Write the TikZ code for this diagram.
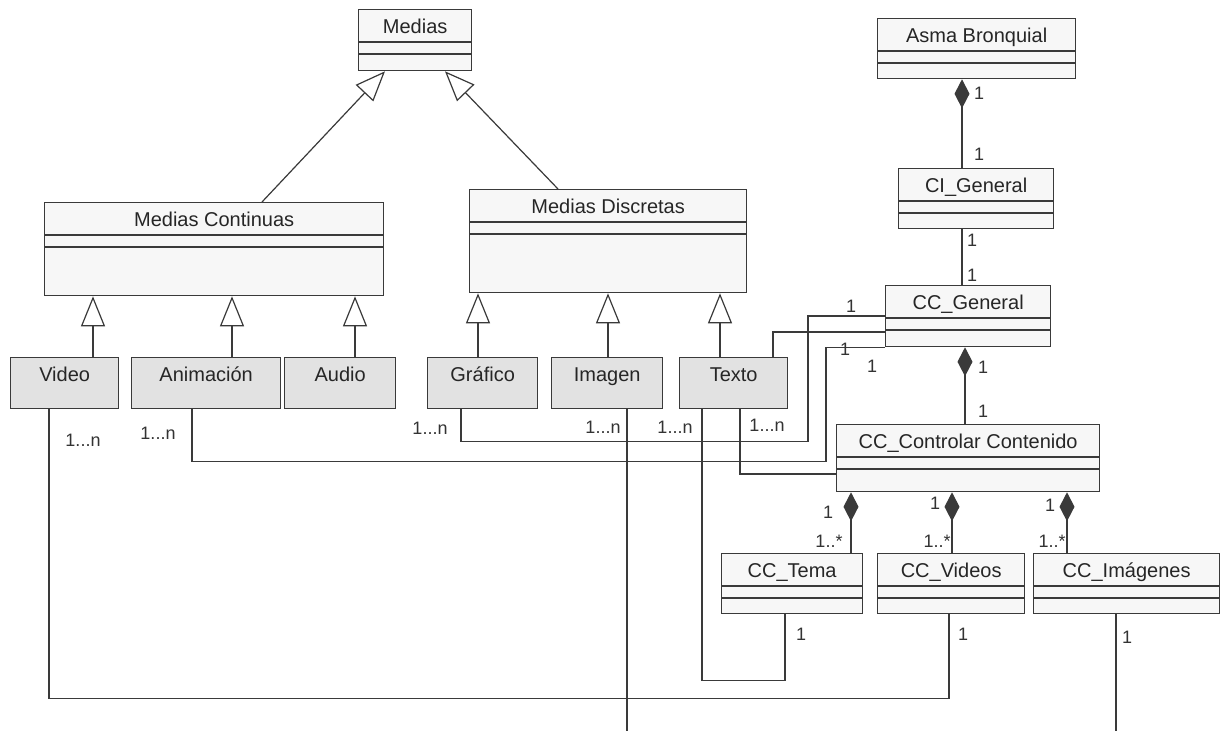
\documentclass[tikz,border=0pt]{standalone}
\usepackage{fontspec}
\setmainfont{Liberation Sans}
\usetikzlibrary{arrows.meta}

\definecolor{trazo}{HTML}{3A3A3A}
\definecolor{fondoclase}{HTML}{F7F7F7}
\definecolor{fondohoja}{HTML}{E2E2E2}
\definecolor{textomult}{HTML}{333333}

\newcommand{\unoN}{1...n}
\newcommand{\unoV}{1..*}

\tikzset{
  linea/.style={draw=trazo, line width=1.2pt},
  clase/.style={draw=trazo, fill=fondoclase, line width=1.3pt, anchor=north west,
    inner sep=0pt, text height=24pt, text=black!85, font=\fontsize{20}{24}\selectfont},
  hoja/.style={clase, fill=fondohoja, text depth=27pt},
  gen/.style={linea, -{Triangle[length=30pt,width=24pt,fill=white]}},
  comp/.style={linea, {Diamond[length=29pt,width=15pt]}-},
  mult/.style={inner sep=0pt, text=textomult, font=\fontsize{18}{20}\selectfont},
}

\begin{document}
\begin{tikzpicture}[x=1pt, y=-1pt]
			\fill[white] (0,0) rectangle (1224,731);
			\useasboundingbox (0,0) rectangle (1224,731);

			% clases con tres compartimentos
			\foreach \n/\x/\y/\w/\d/\t in {medias/358/9/113/37/Medias,
					mcont/44/202/339/69/Medias Continuas, mdisc/469/189/277/79/Medias Discretas,
					asma/877/18/198/36/Asma Bronquial, cigen/898/168/155/36/CI\_General,
					ccgen/885/285/165/37/CC\_General, cccont/836/424/263/43/CC\_Controlar Contenido,
					cctema/721/553/141/36/CC\_Tema, ccvid/877/553/147/36/CC\_Videos,
					ccimg/1033/553/186/36/CC\_Imágenes}
			{
				\node[clase, minimum width=\w pt, text depth=\d pt] (\n) at (\x,\y) {\t};
				\draw[linea] ([yshift=-33pt]\n.north west) -- ([yshift=-33pt]\n.north east);
				\draw[linea] ([yshift=-45pt]\n.north west) -- ([yshift=-45pt]\n.north east);
			}

			% medias concretas
			\foreach \n/\x/\w/\t in {video/10/108/Video, anim/131/149/Animación, audio/284/111/Audio,
					grafico/427/110/Gráfico, imagen/551/111/Imagen, texto/679/108/Texto}
				\node[hoja, minimum width=\w pt] (\n) at (\x,357) {\t};

			% herencia
			\draw[gen] ([xshift=218pt]mcont.north west) -- ([xshift=27pt]medias.south west);
			\draw[gen] ([xshift=89pt]mdisc.north west) -- ([xshift=87pt]medias.south west);
			\foreach \c/\a/\p/\b in {video/83/mcont/49, anim/101/mcont/188, audio/71/mcont/311,
					grafico/51/mdisc/9, imagen/57/mdisc/139, texto/41/mdisc/251}
				\draw[gen] ([xshift=\a pt]\c.north west) -- ([xshift=\b pt]\p.south west);

			% composicion
			\draw[comp] ([xshift=85pt]asma.south west) -- ([xshift=64pt]cigen.north west);
			\draw[linea] ([xshift=64pt]cigen.south west) -- ([xshift=77pt]ccgen.north west);
			\draw[comp] ([xshift=80pt]ccgen.south west) -- ([xshift=129pt]cccont.north west);
			\draw[comp] ([xshift=15pt]cccont.south west) -- ([xshift=130pt]cctema.north west);
			\draw[comp] ([xshift=116pt]cccont.south west) -- ([xshift=75pt]ccvid.north west);
			\draw[comp] ([xshift=231pt]cccont.south west) -- ([xshift=34pt]ccimg.north west);

			% asociaciones
			\coordinate (imgfin) at (627,731);
			\coordinate (ccimgfin) at (1116,731);
			\draw[linea] ([xshift=39pt]video.south west) -- ++(0,289) -| ([xshift=72pt]ccvid.south west);
			\draw[linea] ([xshift=61pt]anim.south west) -- ++(0,52) -- ++(634,0) |- (ccgen.south west);
			\draw[linea] ([xshift=34pt]grafico.south west) -- ++(0,32) -- ++(347,0) |- ([yshift=-31pt]ccgen.north west);
			\draw[linea] ([xshift=76pt]imagen.south west) -- (imgfin);
			\draw[linea] ([xshift=23pt]texto.south west) -- ++(0,271) -| ([xshift=64pt]cctema.south west);
			\draw[linea] ([xshift=61pt]texto.south west) |- ([yshift=-50pt]cccont.north west);
			\draw[linea] ([xshift=94pt]texto.north west) |- ([yshift=-47pt]ccgen.north west);
			\draw[linea] ([xshift=83pt]ccimg.south west) -- (ccimgfin);

			% multiplicidades
			\foreach \x/\y/\t [count=\i] in {83/440/\unoN, 158/433/\unoN, 430/428/\unoN,
					603/427/\unoN, 675/427/\unoN, 767/425/\unoN, 851/306/1, 845/349/1, 872/366/1,
					979/93/1, 979/154/1, 972/240/1, 972/275/1, 983/367/1, 983/411/1,
					828/512/1, 829/541/\unoV, 935/503/1, 937/541/\unoV, 1050/505/1, 1052/541/\unoV,
					801/634/1, 963/634/1, 1127/637/1}
				\node[mult] (m\i) at (\x,\y) {\t};
		\end{tikzpicture}
\end{document}
